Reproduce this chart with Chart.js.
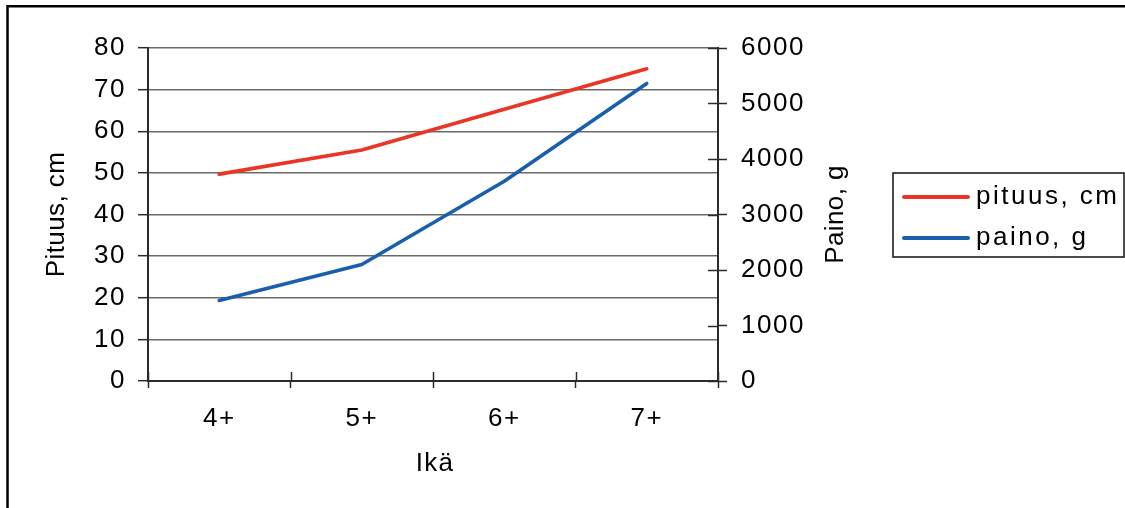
<!DOCTYPE html>
<html>
<head>
<meta charset="utf-8">
<title>Pituus ja paino</title>
<script src="https://cdn.jsdelivr.net/npm/chart.js@4.4.1/dist/chart.umd.min.js"></script>
<style>
  html, body { margin: 0; padding: 0; background: #ffffff; }
  #wrap { width: 1125px; height: 508px; position: relative; }
</style>
</head>
<body>
<div id="wrap"><canvas id="chart"></canvas></div>
<script>
// Ikäryhmät ja mitatut arvot
const ageGroups = ['4+', '5+', '6+', '7+'];
const lengthCm = [49.7, 55.5, 65.3, 75.0];
const weightG = [1450, 2100, 3600, 5360];

// Akselien asteikot
const lengthAxis = { min: 0, max: 80, step: 10 };
const weightAxis = { min: 0, max: 6000, step: 1000 };

const seriesLabels = ['pituus, cm', 'paino, g'];
const seriesColors = ['#EC3426', '#1A5FAD'];
const axisTitles = { x: 'Ikä', left: 'Pituus, cm', right: 'Paino, g' };

const FONT = "'Liberation Sans', Arial, Helvetica, sans-serif";
const FONT_SIZE = 26;
const AXIS_COLOR = '#2b2b2b';
const GRID_COLOR = '#6a6a6a';

Chart.defaults.font.family = FONT;
Chart.defaults.font.size = FONT_SIZE;
Chart.defaults.color = '#000000';

// Slightly wider letter spacing for the tick labels
const spacingPlugin = {
  id: 'tickSpacing',
  beforeDraw(chart) {
    chart.ctx.letterSpacing = '1.5px';
  }
};

// Ticks that cross the bottom and right axis lines
const crossTicks = {
  id: 'crossTicks',
  afterDraw(chart) {
    const ctx = chart.ctx;
    const x = chart.scales.x;
    const y1 = chart.scales.y1;
    ctx.save();
    ctx.strokeStyle = AXIS_COLOR;
    ctx.lineWidth = 1.5;
    const n = ageGroups.length;
    for (let i = 0; i <= n; i++) {
      const px = Math.round(x.left + (x.right - x.left) * i / n) + 0.5;
      ctx.beginPath();
      ctx.moveTo(px, x.top - 9);
      ctx.lineTo(px, x.top);
      ctx.stroke();
    }
    y1.ticks.forEach(t => {
      const py = Math.round(y1.getPixelForValue(t.value)) + 0.5;
      ctx.beginPath();
      ctx.moveTo(y1.left - 10, py);
      ctx.lineTo(y1.left, py);
      ctx.stroke();
    });
    ctx.restore();
  }
};

// Axis titles, legend box and outer frame
const decorations = {
  id: 'decorations',
  afterDraw(chart) {
    const ctx = chart.ctx;
    const area = chart.chartArea;
    const midY = (area.top + area.bottom) / 2;
    ctx.save();
    ctx.fillStyle = '#000000';
    ctx.font = FONT_SIZE + 'px ' + FONT;

    // vertical titles, reading upwards
    ctx.letterSpacing = '0.4px';
    ctx.textAlign = 'center';
    ctx.textBaseline = 'alphabetic';
    [[64, axisTitles.left], [843, axisTitles.right]].forEach(([bx, txt]) => {
      ctx.save();
      ctx.translate(bx, midY);
      ctx.rotate(-Math.PI / 2);
      ctx.fillText(txt, 0, 0);
      ctx.restore();
    });

    // horizontal axis title
    ctx.letterSpacing = '1.2px';
    ctx.textBaseline = 'middle';
    ctx.fillText(axisTitles.x, (area.left + area.right) / 2 + 2, 464);

    // legend
    const box = { left: 893, top: 173, right: 1124, bottom: 257 };
    ctx.strokeStyle = '#111111';
    ctx.lineWidth = 1.5;
    ctx.strokeRect(box.left, box.top, box.right - box.left, box.bottom - box.top);
    ctx.letterSpacing = '2.5px';
    ctx.textAlign = 'left';
    ctx.textBaseline = 'alphabetic';
    const rows = [197, 238];
    chart.data.datasets.forEach((ds, i) => {
      const ly = rows[i];
      ctx.strokeStyle = ds.borderColor;
      ctx.lineWidth = 4;
      ctx.lineCap = 'round';
      ctx.beginPath();
      ctx.moveTo(904, ly);
      ctx.lineTo(968, ly);
      ctx.stroke();
      ctx.fillText(ds.label, 976, ly + 7);
    });

    // outer frame (top and left edges visible)
    ctx.strokeStyle = '#000000';
    ctx.lineWidth = 2.5;
    ctx.lineCap = 'butt';
    ctx.beginPath();
    ctx.moveTo(7.5, 520);
    ctx.lineTo(7.5, 6.3);
    ctx.lineTo(1140, 6.3);
    ctx.stroke();
    ctx.restore();
  }
};

const plainNumber = v => String(v);

new Chart(document.getElementById('chart'), {
  type: 'line',
  data: {
    labels: ageGroups,
    datasets: [
      {
        label: seriesLabels[0],
        data: lengthCm,
        yAxisID: 'y',
        borderColor: seriesColors[0],
        backgroundColor: seriesColors[0],
        borderWidth: 3.6,
        pointRadius: 0,
        tension: 0,
        borderJoinStyle: 'round',
        borderCapStyle: 'round',
        fill: false
      },
      {
        label: seriesLabels[1],
        data: weightG,
        yAxisID: 'y1',
        borderColor: seriesColors[1],
        backgroundColor: seriesColors[1],
        borderWidth: 3.6,
        pointRadius: 0,
        tension: 0,
        borderJoinStyle: 'round',
        borderCapStyle: 'round',
        fill: false
      }
    ]
  },
  options: {
    responsive: true,
    maintainAspectRatio: false,
    animation: false,
    layout: { padding: { top: 48, left: 0, right: 0, bottom: 0 } },
    plugins: {
      legend: { display: false },
      tooltip: { enabled: false },
      title: { display: false }
    },
    scales: {
      x: {
        type: 'category',
        offset: true,
        afterFit(scale) { scale.height = 127; },
        grid: {
          drawOnChartArea: false,
          drawTicks: true,
          offset: true,
          tickLength: 7,
          tickColor: AXIS_COLOR,
          tickWidth: 1.5
        },
        border: { display: true, color: AXIS_COLOR, width: 2 },
        ticks: { padding: 15, maxRotation: 0, autoSkip: false, color: '#000' }
      },
      y: {
        type: 'linear',
        position: 'left',
        min: lengthAxis.min,
        max: lengthAxis.max,
        afterFit(scale) { scale.width = 148; },
        grid: {
          color: GRID_COLOR,
          lineWidth: 1.4,
          drawTicks: true,
          tickLength: 10,
          tickColor: AXIS_COLOR,
          tickWidth: 1.5
        },
        border: { display: true, color: AXIS_COLOR, width: 2 },
        ticks: { stepSize: lengthAxis.step, padding: 12, color: '#000', callback: plainNumber }
      },
      y1: {
        type: 'linear',
        position: 'right',
        min: weightAxis.min,
        max: weightAxis.max,
        afterFit(scale) { scale.width = 1125 - 718; },
        grid: {
          drawOnChartArea: false,
          drawTicks: true,
          tickLength: 9,
          tickColor: AXIS_COLOR,
          tickWidth: 1.5
        },
        border: { display: true, color: AXIS_COLOR, width: 2 },
        ticks: { stepSize: weightAxis.step, padding: 14, color: '#000', callback: plainNumber }
      }
    }
  },
  plugins: [spacingPlugin, crossTicks, decorations]
});
</script>
</body>
</html>
